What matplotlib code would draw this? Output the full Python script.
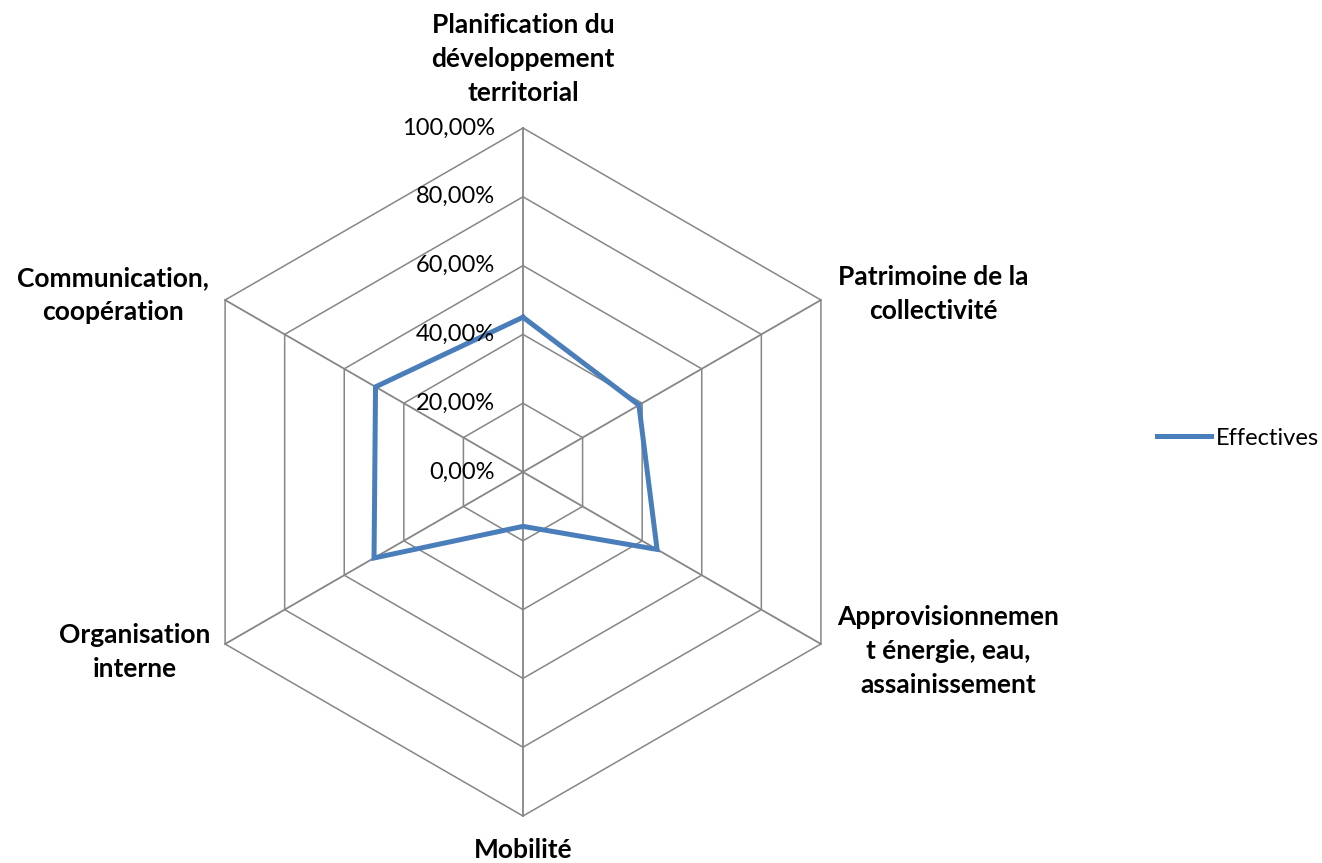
import numpy as np
import matplotlib
matplotlib.use("Agg")
import matplotlib.pyplot as plt

# radar chart data (share of measures, %)
categories = [
    "Planification du\ndéveloppement\nterritorial",
    "Patrimoine de la\ncollectivité",
    "Approvisionnemen\nt énergie, eau,\nassainissement",
    "Mobilité",
    "Organisation\ninterne",
    "Communication,\ncoopération",
]
effectives = [45.0, 38.9, 45.0, 15.8, 50.0, 49.5]
levels = [0, 20, 40, 60, 80, 100]
level_labels = ["0,00%", "20,00%", "40,00%", "60,00%", "80,00%", "100,00%"]
series_name = "Effectives"

W, H = 1322, 863
CX, CY = 523, 472   # center in pixels (from top-left)
R = 344             # pixels for 100 %

plt.rcParams["font.family"] = ["Lato", "DejaVu Sans"]

fig = plt.figure(figsize=(W / 100, H / 100), dpi=100)
ax = fig.add_axes([0, 0, 1, 1])
ax.set_xlim(-CX / R, (W - CX) / R)
ax.set_ylim(-(H - CY) / R, CY / R)
ax.axis("off")


def px(x, y):
    # pixel position -> data coords
    return (x - CX) / R, (CY - y) / R


n = len(categories)
theta = np.pi / 2 - np.arange(n) * 2 * np.pi / n
grid_col = "#868686"

# hexagonal grid rings
for lv in levels[1:]:
    r = lv / 100
    xs = np.append(r * np.cos(theta), r * np.cos(theta[0]))
    ys = np.append(r * np.sin(theta), r * np.sin(theta[0]))
    ax.plot(xs, ys, color=grid_col, lw=1.1, zorder=1)

# spokes
for t in theta:
    ax.plot([0, np.cos(t)], [0, np.sin(t)], color=grid_col, lw=1.3, zorder=1)

# tick labels along the vertical axis
for lv, lab in zip(levels, level_labels):
    ax.text(-28 / R, lv / 100, lab, ha="right", va="center", fontsize=17, color="black", zorder=3)

# data line
vals = np.array(effectives) / 100
xs = np.append(vals * np.cos(theta), vals[0] * np.cos(theta[0]))
ys = np.append(vals * np.sin(theta), vals[0] * np.sin(theta[0]))
ax.plot(xs, ys, color="#4a7ebb", lw=3.6, solid_joinstyle="miter", label=series_name, zorder=2)

# category labels
label_pos = [(523, 59), (933, 294), (948, 651), (523, 850), (135, 652), (113, 295)]
for lab, (lx, ly) in zip(categories, label_pos):
    x, y = px(lx, ly)
    ax.text(x, y, lab, ha="center", va="center", fontsize=19, fontweight="bold",
            linespacing=1.48, multialignment="center")

leg = ax.legend(loc="center left", bbox_to_anchor=(1157 / W, 1 - 438 / H),
                bbox_transform=fig.transFigure, frameon=False, borderpad=0,
                borderaxespad=0, handlelength=2.3, handletextpad=0.2, fontsize=17)

fig.savefig("out.png", dpi=100)
